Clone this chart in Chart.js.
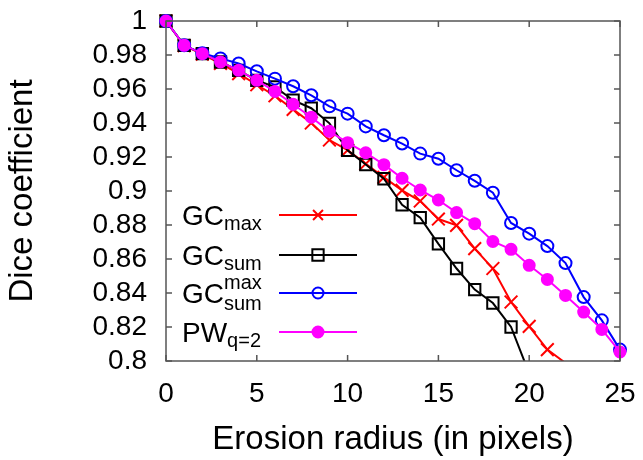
<!DOCTYPE html>
<html>
<head>
<meta charset="utf-8">
<script src="https://cdn.jsdelivr.net/npm/chart.js@4.4.1/dist/chart.umd.min.js"></script>
<style>
    html, body { margin: 0; padding: 0; background: #fff; }
    #wrap { width: 643px; height: 460px; }
</style>
</head>
<body>
<div id="wrap"><canvas id="dice-chart"></canvas></div>
<script>
// Erosion radius (x values)
const radius = [0, 1, 2, 3, 4, 5, 6, 7, 8, 9, 10, 11, 12, 13, 14, 15, 16, 17, 18, 19, 20, 21, 22, 23, 24, 25];

// Dice coefficient per method
const gcMax = [1, 0.9855, 0.9805, 0.975, 0.969, 0.9625, 0.956, 0.948, 0.940, 0.930, 0.924, 0.916, 0.908,
    0.9004, 0.8941, 0.8835, 0.8798, 0.8661, 0.8544, 0.8347, 0.8204, 0.8067, 0.7988];
const gcSum = [1, 0.9857, 0.9808, 0.9759, 0.971, 0.9651, 0.9612, 0.9534, 0.9487, 0.9398, 0.9239, 0.9156, 0.9072,
    0.8919, 0.8843, 0.8689, 0.8544, 0.842, 0.8341, 0.82, 0.7927];
const gcSumMax = [1, 0.9857, 0.981, 0.978, 0.975, 0.9704, 0.9661, 0.9616, 0.9563, 0.9498, 0.9455, 0.938, 0.9328,
    0.9279, 0.922, 0.919, 0.9122, 0.906, 0.899, 0.8812, 0.8749, 0.8676, 0.8576, 0.8376, 0.8239, 0.8067];
const pwQ2 = [1, 0.9857, 0.9808, 0.9759, 0.971, 0.9651, 0.9586, 0.951, 0.9434, 0.9351, 0.9284, 0.9225, 0.9155,
    0.9075, 0.9006, 0.8947, 0.8873, 0.8808, 0.8703, 0.8657, 0.8563, 0.848, 0.8386, 0.8288, 0.8186, 0.8053];

// Axis ticks
const xTicks = [0, 5, 10, 15, 20, 25];
const yTicks = [0.8, 0.82, 0.84, 0.86, 0.88, 0.9, 0.92, 0.94, 0.96, 0.98, 1];

// Legend text parts: main, subscript, superscript
const legendMain = ['GC', 'GC', 'GC', 'PW'];
const legendSub = ['max', 'sum', 'sum', 'q=2'];
const legendSup = ['', '', 'max', ''];

const FONT = '"Liberation Sans", Arial, sans-serif';

function toPoints(values) {
    return values.map((v, i) => ({ x: radius[i], y: v }));
}

// hide markers that fall under the bottom of the plot (gnuplot clips them)
function markerSize(size) {
    return ctx => (ctx.raw && ctx.raw.y < 0.8 ? 0 : size);
}

function makeDataset(label, values, color, style, size, fill, order) {
    return {
        label: label,
        data: toPoints(values),
        borderColor: color,
        backgroundColor: fill,
        borderWidth: 2,
        pointStyle: style,
        pointRadius: markerSize(size),
        pointBorderWidth: 2,
        pointBorderColor: color,
        pointBackgroundColor: fill,
        pointHoverRadius: markerSize(size),
        tension: 0,
        order: order,
        clip: { left: 20, top: 20, right: 20, bottom: 0 }
    };
}

// Box around the plot with inward ticks on all sides, plus a custom legend
const frameAndLegend = {
    id: 'frameAndLegend',
    afterDraw(chart) {
        const ctx = chart.ctx;
        const area = chart.chartArea;
        const xs = chart.scales.x;
        const ys = chart.scales.y;
        ctx.save();
        ctx.strokeStyle = '#555';
        ctx.lineWidth = 1.5;
        ctx.strokeRect(area.left, area.top, area.right - area.left, area.bottom - area.top);
        ctx.beginPath();
        xTicks.forEach(t => {
            const px = xs.getPixelForValue(t);
            ctx.moveTo(px, area.bottom); ctx.lineTo(px, area.bottom - 6);
            ctx.moveTo(px, area.top); ctx.lineTo(px, area.top + 6);
        });
        yTicks.forEach(t => {
            const py = ys.getPixelForValue(t);
            ctx.moveTo(area.left, py); ctx.lineTo(area.left + 6, py);
            ctx.moveTo(area.right, py); ctx.lineTo(area.right - 6, py);
        });
        ctx.stroke();

        // legend rows
        const rowY = [215, 255, 293, 332];
        const textX = 182;
        chart.data.datasets.forEach((ds, i) => {
            const y = rowY[i];
            ctx.fillStyle = '#000';
            ctx.textBaseline = 'alphabetic';
            ctx.textAlign = 'left';
            ctx.font = '28px ' + FONT;
            ctx.fillText(legendMain[i], textX, y + 10);
            const subX = textX + ctx.measureText(legendMain[i]).width;
            ctx.font = '20px ' + FONT;
            if (legendSup[i]) {
                ctx.fillText(legendSup[i], subX, y - 4);
                ctx.fillText(legendSub[i], subX, y + 17);
            } else {
                ctx.fillText(legendSub[i], subX, y + 15);
            }
            // sample line and marker
            ctx.strokeStyle = ds.borderColor;
            ctx.lineWidth = 2;
            ctx.beginPath();
            ctx.moveTo(279, y);
            ctx.lineTo(357, y);
            ctx.stroke();
            ctx.fillStyle = ds.pointBackgroundColor;
            Chart.helpers.drawPoint(ctx, {
                pointStyle: ds.pointStyle,
                radius: ds.legendRadius,
                rotation: 0,
                borderWidth: 2
            }, 318, y);
            if (ds.pointBackgroundColor !== 'rgba(0,0,0,0)') ctx.fill();
        });
        ctx.restore();
    }
};

const datasets = [
    makeDataset('GCmax', gcMax, '#ff0000', 'crossRot', 9, 'rgba(0,0,0,0)', 4),
    makeDataset('GCsum', gcSum, '#000000', 'rect', 8, 'rgba(0,0,0,0)', 3),
    makeDataset('GCsum max', gcSumMax, '#0000ff', 'circle', 6, 'rgba(0,0,0,0)', 2),
    makeDataset('PWq=2', pwQ2, '#ff00ff', 'circle', 5.5, '#ff00ff', 1)
];
datasets[0].legendRadius = 7;
datasets[1].legendRadius = 8;
datasets[2].legendRadius = 5.5;
datasets[3].legendRadius = 5.5;

new Chart(document.getElementById('dice-chart'), {
    type: 'line',
    data: { datasets: datasets },
    options: {
        responsive: true,
        maintainAspectRatio: false,
        animation: false,
        events: [],
        layout: { padding: { top: 21, right: 23, left: 0, bottom: 0 } },
        plugins: {
            legend: { display: false },
            tooltip: { enabled: false }
        },
        scales: {
            x: {
                type: 'linear',
                min: 0,
                max: 25,
                afterBuildTicks: scale => { scale.ticks = xTicks.map(v => ({ value: v })); },
                afterFit: scale => {
                    scale.height = 99;
                    scale.paddingLeft = 0;
                    scale.paddingRight = 0;
                },
                grid: { display: false, drawTicks: false },
                border: { display: false },
                ticks: {
                    color: '#000',
                    padding: 16,
                    autoSkip: false,
                    font: { family: FONT, size: 28 },
                    maxRotation: 0
                },
                title: {
                    display: true,
                    text: 'Erosion radius (in pixels)',
                    color: '#000',
                    font: { family: FONT, size: 33 },
                    padding: { top: 4, bottom: 0 }
                }
            },
            y: {
                min: 0.8,
                max: 1,
                afterBuildTicks: scale => { scale.ticks = yTicks.map(v => ({ value: v })); },
                afterFit: scale => {
                    scale.width = 166;
                    scale.paddingTop = 0;
                    scale.paddingBottom = 0;
                },
                grid: { display: false, drawTicks: false },
                border: { display: false },
                ticks: {
                    color: '#000',
                    padding: 19,
                    autoSkip: false,
                    font: { family: FONT, size: 28 },
                    callback: v => String(+v.toFixed(2))
                },
                title: {
                    display: true,
                    text: 'Dice coefficient',
                    color: '#000',
                    font: { family: FONT, size: 33 },
                    padding: { top: 3, bottom: 0 }
                }
            }
        }
    },
    plugins: [frameAndLegend]
});
</script>
</body>
</html>
